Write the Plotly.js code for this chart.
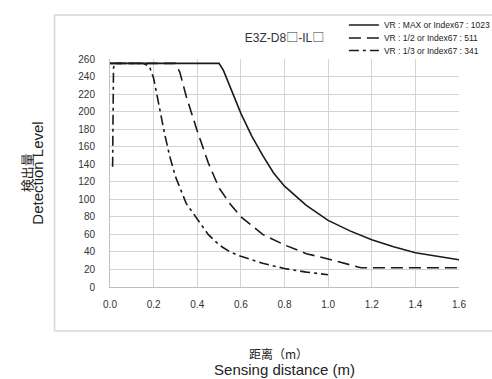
<!DOCTYPE html>
<html><head><meta charset="utf-8">
<script src="https://cdn.plot.ly/plotly-3.0.1.min.js"></script>
<style>html,body{margin:0;padding:0;background:#fff;}#chart{width:492px;height:379px;}</style>
</head><body><div id="chart"></div>
<script>
// Series: VR : MAX or Index67 : 1023 (solid)
var maxX = [0, 0.5, 0.52, 0.55, 0.6, 0.65, 0.7, 0.75, 0.8, 0.9, 1.0, 1.1, 1.2, 1.3, 1.4, 1.5, 1.6];
var maxY = [255, 255, 247, 228, 198, 172, 150, 130, 115, 93, 76, 64, 54, 46, 39, 35, 31];
// Series: VR : 1/2 or Index67 : 511 (dashed)
var halfX = [0, 0.3, 0.32, 0.35, 0.4, 0.45, 0.5, 0.55, 0.6, 0.7, 0.8, 0.9, 1.0, 1.1, 1.15, 1.2, 1.6];
var halfY = [255, 255, 245, 217, 178, 142, 113, 95, 80, 60, 48, 38, 32, 25, 22, 22, 22];
// Series: VR : 1/3 or Index67 : 341 (dash-dot)
var thirdX = [0.012, 0.016, 0.025, 0.15, 0.18, 0.2, 0.22, 0.25, 0.275, 0.3, 0.35, 0.4, 0.45, 0.5, 0.55, 0.6, 0.7, 0.8, 0.9, 1.0];
var thirdY = [137, 250, 255, 255, 252, 238, 213, 175, 148, 126, 95, 78, 60, 48, 40, 35, 27, 21, 17, 14];

var seriesNames = ["VR : MAX or Index67 : 1023", "VR : 1/2 or Index67 : 511", "VR : 1/3 or Index67 : 341"];
var sq = "<span style='font-family:Noto Sans CJK SC'>\u25A1</span>";
var chartTitle = "E3Z-D8" + sq + "-IL" + sq;
var xTitleEn = "Sensing distance (m)";
var xTitleZh = "距离（m）";
var yTitleEn = "Detection Level";
var yTitleZh = "検出量";

var lineColor = "#1a1a1a";
var traces = [
  {x: maxX, y: maxY, name: seriesNames[0], mode: "lines", legend: "legend",
   line: {color: lineColor, width: 1.6, dash: "solid"}},
  {x: halfX, y: halfY, name: seriesNames[1], mode: "lines", legend: "legend2",
   line: {color: lineColor, width: 1.6, dash: "12px,6px"}},
  {x: thirdX, y: thirdY, name: seriesNames[2], mode: "lines", legend: "legend3",
   line: {color: lineColor, width: 1.6, dash: "10px,4px,3px,4px"}}
];

var ff = "Liberation Sans, Arial, Noto Sans CJK SC, sans-serif";
var cjk = "Noto Sans CJK SC, Noto Sans CJK JP, sans-serif";
function leg(y) {
  return {x: 0.699, xref: "container", xanchor: "left", y: y, yref: "container", yanchor: "middle",
          bgcolor: "rgba(0,0,0,0)", borderwidth: 0, font: {family: ff, size: 8.5, color: "#222"}};
}
var frameColor = "#d6d6d6";
function frameLine(x0, y0, x1, y1) {
  return {type: "line", xref: "paper", yref: "paper", x0: x0, y0: y0, x1: x1, y1: y1,
          line: {color: frameColor, width: 1.5}, layer: "below"};
}
var layout = {
  width: 492, height: 379,
  margin: {l: 110, r: 33, t: 59, b: 92, pad: 0, autoexpand: false},
  paper_bgcolor: "#fff", plot_bgcolor: "#fff",
  font: {family: ff, color: "#333"},
  title: {text: chartTitle, x: 0.5, xref: "paper", xanchor: "center", y: 0.9, yref: "container", yanchor: "middle",
          font: {family: ff, size: 12, color: "#333"}},
  showlegend: true,
  legend: leg(1 - 25 / 379), legend2: leg(1 - 38 / 379), legend3: leg(1 - 50.5 / 379),
  xaxis: {range: [0, 1.6], dtick: 0.2, tick0: 0, tickformat: ".1f", showgrid: true, gridcolor: "#d3d3d3", gridwidth: 1,
          zeroline: false, showline: true, linecolor: "#bfbfbf", linewidth: 1, ticks: "",
          ticklabelstandoff: 8, tickfont: {family: ff, size: 10, color: "#333"},
          title: {text: xTitleEn, standoff: 55, font: {family: ff, size: 15, color: "#222"}}, automargin: false, fixedrange: true},
  yaxis: {range: [0, 260], dtick: 20, tick0: 0, showgrid: true, gridcolor: "#d3d3d3", gridwidth: 1,
          zeroline: false, showline: true, linecolor: "#bfbfbf", linewidth: 1, ticks: "",
          ticklabelstandoff: 12, tickfont: {family: ff, size: 10, color: "#333"},
          title: {text: yTitleEn, standoff: 31, font: {family: ff, size: 15, color: "#222"}}, automargin: false, fixedrange: true},
  annotations: [
    {text: xTitleZh, xref: "paper", yref: "paper", x: 0.484, y: -0.292, xanchor: "center", yanchor: "middle",
     showarrow: false, font: {family: cjk, size: 12, color: "#222"}},
    {text: yTitleZh, xref: "paper", yref: "paper", x: -0.24, y: 0.5, xanchor: "center", yanchor: "middle",
     textangle: -90, showarrow: false, font: {family: cjk, size: 13, color: "#222"}}
  ],
  shapes: [
    frameLine(-0.159, 1.193, 1.25, 1.193),
    frameLine(-0.159, -0.193, 1.25, -0.193),
    frameLine(-0.159, -0.193, -0.159, 1.193)
  ]
};
Plotly.newPlot("chart", traces, layout, {staticPlot: true, displayModeBar: false});
</script></body></html>
